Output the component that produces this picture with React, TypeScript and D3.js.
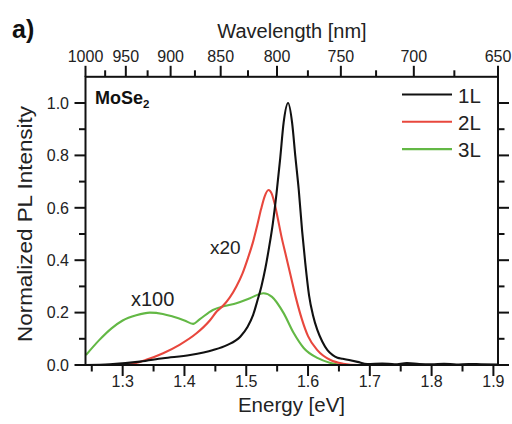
import React from "react";
import * as d3 from "d3";

// Photon energy <-> wavelength conversion constant (eV·nm)
const HC = 1239.84;

const energyTicks = [1.3, 1.4, 1.5, 1.6, 1.7, 1.8, 1.9];
const energyMinorTicks = [1.25, 1.35, 1.45, 1.55, 1.65, 1.75, 1.85];
const wavelengthTicks = [1000, 950, 900, 850, 800, 750, 700, 650];
const wavelengthMinorTicks = [975, 925, 875, 825, 775, 725, 675];
const intensityTicks = [0, 0.2, 0.4, 0.6, 0.8, 1.0];
const intensityMinorTicks = [0.1, 0.3, 0.5, 0.7, 0.9];

const layerNames = ["1L", "2L", "3L"];
const layerColors = ["#111111", "#e8473d", "#63b845"];

// Monolayer PL spectrum
const energy1L = [1.2406, 1.279, 1.328, 1.3655, 1.4092, 1.4465, 1.4688, 1.4903, 1.502, 1.511, 1.518, 1.5245, 1.531, 1.537, 1.543, 1.549, 1.555, 1.5605, 1.5677, 1.5742, 1.5795, 1.585, 1.5905, 1.5955, 1.6017, 1.608, 1.615, 1.623, 1.6314, 1.64, 1.6476, 1.656, 1.664, 1.68, 1.696, 1.72, 1.74, 1.76, 1.78, 1.8, 1.82, 1.84, 1.86, 1.88, 1.9075];
const pl1L = [0, 0.003, 0.013, 0.026, 0.038, 0.057, 0.076, 0.108, 0.145, 0.19, 0.245, 0.3, 0.37, 0.45, 0.54, 0.655, 0.79, 0.925, 1.0, 0.925, 0.795, 0.668, 0.51, 0.39, 0.265, 0.19, 0.134, 0.09, 0.057, 0.038, 0.028, 0.024, 0.02, 0.012, 0.004, 0.006, 0.003, 0.007, 0.004, 0.003, 0.005, 0.002, 0.004, 0.003, 0.002];

// Bilayer PL spectrum (scaled x20)
const energy2L = [1.2406, 1.2795, 1.3106, 1.338, 1.3655, 1.392, 1.419, 1.441, 1.4525, 1.462, 1.484, 1.494, 1.503, 1.511, 1.518, 1.524, 1.53, 1.536, 1.541, 1.546, 1.551, 1.557, 1.564, 1.572, 1.58, 1.59, 1.6, 1.615, 1.6363, 1.657, 1.68, 1.75];
const pl2L = [0, 0, 0.003, 0.02, 0.045, 0.077, 0.12, 0.17, 0.205, 0.225, 0.3, 0.35, 0.41, 0.47, 0.535, 0.595, 0.645, 0.668, 0.655, 0.615, 0.56, 0.49, 0.42, 0.34, 0.26, 0.175, 0.11, 0.057, 0.019, 0.005, 0, 0];

// Trilayer PL spectrum (scaled x100)
const energy3L = [1.2406, 1.262, 1.282, 1.3, 1.322, 1.344, 1.365, 1.381, 1.4, 1.414, 1.425, 1.446, 1.465, 1.484, 1.506, 1.528, 1.5417, 1.5605, 1.5768, 1.593, 1.615, 1.6363, 1.66, 1.75];
const pl3L = [0.038, 0.095, 0.14, 0.17, 0.19, 0.2, 0.195, 0.185, 0.17, 0.157, 0.175, 0.21, 0.225, 0.236, 0.255, 0.274, 0.26, 0.198, 0.122, 0.065, 0.027, 0.008, 0, 0];

const seriesEnergy = [energy1L, energy2L, energy3L];
const seriesPL = [pl1L, pl2L, pl3L];

const W = 512;
const H = 424;
const left = 85.5;
const right = 498;
const top = 76.8;
const bottom = 365;
const majorLen = 11;
const minorLen = 6.5;
const font = "'Liberation Sans', Arial, Helvetica, sans-serif";
const textColor = "#222";

export default function App() {
  const x = d3.scaleLinear().domain([HC / 1000, HC / 650]).range([left, right]);
  const y = d3.scaleLinear().domain([0, 1.1]).range([bottom, top]);
  const xw = (nm: number) => x(HC / nm);

  const line = d3
    .line<[number, number]>()
    .x((d) => x(d[0]))
    .y((d) => y(d[1]))
    .curve(d3.curveMonotoneX);

  const paths = seriesEnergy.map((es, i) =>
    line(es.map((e, j) => [e, seriesPL[i][j]] as [number, number]))
  );

  return (
    <svg
      width={W}
      height={H}
      viewBox={`0 0 ${W} ${H}`}
      style={{ position: "absolute", left: 0, top: 0, background: "#fff" }}
      fontFamily={font}
    >
      <rect x={0} y={0} width={W} height={H} fill="#fff" />

      {/* spectra */}
      <g fill="none" strokeWidth={2.1} strokeLinejoin="round">
        {[2, 1, 0].map((i) => (
          <path key={layerNames[i]} d={paths[i] || ""} stroke={layerColors[i]} />
        ))}
      </g>

      {/* frame */}
      <rect
        x={left}
        y={top}
        width={right - left}
        height={bottom - top}
        fill="none"
        stroke="#111"
        strokeWidth={2}
      />

      {/* ticks */}
      <g stroke="#111" strokeWidth={2}>
        {energyTicks.map((t) => (
          <line key={"eb" + t} x1={x(t)} x2={x(t)} y1={bottom} y2={bottom + majorLen} />
        ))}
        {energyMinorTicks.map((t) => (
          <line key={"ebm" + t} x1={x(t)} x2={x(t)} y1={bottom} y2={bottom + minorLen} />
        ))}
        {wavelengthTicks.map((t) => (
          <line key={"wt" + t} x1={xw(t)} x2={xw(t)} y1={top} y2={top - majorLen} />
        ))}
        {wavelengthMinorTicks.map((t) => (
          <line key={"wtm" + t} x1={xw(t)} x2={xw(t)} y1={top} y2={top - minorLen} />
        ))}
        {intensityTicks.map((t) => (
          <g key={"it" + t}>
            <line x1={left} x2={left - majorLen} y1={y(t)} y2={y(t)} />
            <line x1={right} x2={right + majorLen} y1={y(t)} y2={y(t)} />
          </g>
        ))}
        {intensityMinorTicks.map((t) => (
          <g key={"itm" + t}>
            <line x1={left} x2={left - minorLen} y1={y(t)} y2={y(t)} />
            <line x1={right} x2={right + minorLen} y1={y(t)} y2={y(t)} />
          </g>
        ))}
      </g>

      {/* tick labels */}
      <g fill={textColor} fontSize={16}>
        {energyTicks.map((t) => (
          <text key={"ebl" + t} x={x(t)} y={387} textAnchor="middle">
            {d3.format(".1f")(t)}
          </text>
        ))}
        {wavelengthTicks.map((t) => (
          <text key={"wtl" + t} x={xw(t)} y={62} textAnchor="middle">
            {t}
          </text>
        ))}
        {intensityTicks.map((t) => (
          <text key={"itl" + t} x={69} y={y(t)} dy="0.36em" textAnchor="end">
            {d3.format(".1f")(t)}
          </text>
        ))}
      </g>

      {/* axis titles */}
      <g fill={textColor}>
        <text x={292} y={37.5} fontSize={20} textAnchor="middle">
          Wavelength [nm]
        </text>
        <text x={291.5} y={411.5} fontSize={20.5} textAnchor="middle">
          Energy [eV]
        </text>
        <text
          transform="translate(32,224) rotate(-90)"
          fontSize={21}
          textAnchor="middle"
          textLength={236}
          lengthAdjust="spacingAndGlyphs"
        >
          Normalized PL Intensity
        </text>
        <text x={12} y={38} fontSize={25} fontWeight="bold" fill="#111">
          a)
        </text>
        <text x={95} y={104} fontSize={18} fontWeight="bold" fill="#111">
          MoSe
          <tspan fontSize={11.5} dy={4}>
            2
          </tspan>
        </text>
        <text x={210} y={254} fontSize={19}>
          x20
        </text>
        <text x={131} y={306} fontSize={20}>
          x100
        </text>
      </g>

      {/* legend */}
      <g>
        {layerNames.map((name, i) => {
          const ly = 94.5 + i * 27.3;
          return (
            <g key={"lg" + name}>
              <line x1={402} x2={452} y1={ly} y2={ly} stroke={layerColors[i]} strokeWidth={2.1} />
              <text x={458} y={ly + 8} fontSize={20.5} fill={textColor}>
                {name}
              </text>
            </g>
          );
        })}
      </g>
    </svg>
  );
}
